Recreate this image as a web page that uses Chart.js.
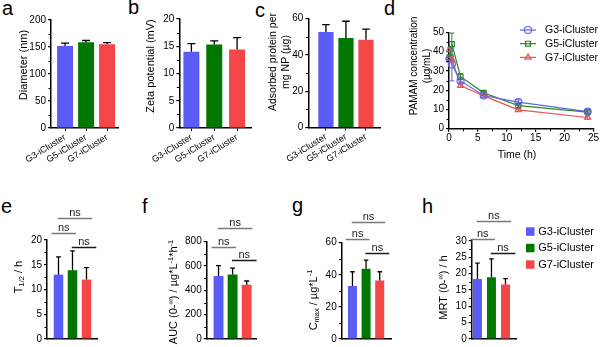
<!DOCTYPE html>
<html>
<head>
<meta charset="utf-8">
<script src="https://cdn.jsdelivr.net/npm/chart.js@4.4.1/dist/chart.umd.min.js"></script>
<style>
  body { margin: 0; background: #fff; width: 600px; height: 347px; position: relative; overflow: hidden; font-family: 'Liberation Sans', Arial, sans-serif; }
  canvas { position: absolute; }
  .tag { position: absolute; font-size: 20px; line-height: 20px; color: #000; }
</style>
</head>
<body>
<div class="tag" style="left:2px;top:-2px">a</div>
<div class="tag" style="left:128px;top:-3px">b</div>
<div class="tag" style="left:255px;top:0px">c</div>
<div class="tag" style="left:384px;top:-2px">d</div>
<div class="tag" style="left:1px;top:196px">e</div>
<div class="tag" style="left:142px;top:196px">f</div>
<div class="tag" style="left:292px;top:195px">g</div>
<div class="tag" style="left:422px;top:196px">h</div>

<canvas id="ca" width="130" height="175" style="left:0;top:0"></canvas>
<canvas id="cb" width="130" height="175" style="left:130px;top:0"></canvas>
<canvas id="cc" width="130" height="175" style="left:260px;top:0"></canvas>
<canvas id="cd" width="205" height="175" style="left:395px;top:0"></canvas>
<canvas id="ce" width="140" height="177" style="left:0;top:170px"></canvas>
<canvas id="cf" width="150" height="177" style="left:140px;top:170px"></canvas>
<canvas id="cg" width="130" height="177" style="left:290px;top:170px"></canvas>
<canvas id="ch" width="180" height="177" style="left:420px;top:170px"></canvas>

<script>
// ---- data ----
const groups = ['G3-iCluster', 'G5-iCluster', 'G7-iCluster'];

const diameter = [152, 159, 155];
const diameterSD = [5, 3, 3];
const zeta = [14.0, 15.3, 14.4];
const zetaSD = [1.5, 0.7, 2.2];
const protein = [52.6, 49.4, 48.4];
const proteinSD = [4.1, 9.2, 5.9];

const timeH = [0.083, 0.5, 2, 6, 12, 24];
const pamamG3 = [36, 33.3, 24.8, 17.2, 13.8, 8.9];
const pamamG3SD = [1, 8.5, 1, 0.8, 1.2, 0.8];
const pamamG5 = [37, 43.9, 27, 18.6, 12, 8.6];
const pamamG5SD = [1, 5.7, 1.5, 0.8, 1, 0.6];
const pamamG7 = [41, 36, 22.4, 17, 9.8, 5.8];
const pamamG7SD = [1, 1.5, 1, 0.8, 0.8, 0.8];

const t12 = [13, 13.9, 12];
const t12SD = [3.6, 3.9, 2.4];
const auc = [519, 530, 446];
const aucSD = [84, 53, 31];
const cmax = [33, 43.8, 36.5];
const cmaxSD = [8.9, 5.4, 5.4];
const mrt = [18.4, 18.9, 16.7];
const mrtSD = [4.8, 5.6, 1.8];

// pairwise comparisons: all "ns"
const nsPairs = [[0, 2], [0, 1], [1, 2]];
const nsText = ['ns', 'ns', 'ns'];
// bracket heights in each panel's data units (top, middle, lower)
const t12Brackets = [24.5, 21.4, 18.6];
const aucBrackets = [913, 756, 650];
const cmaxBrackets = [73, 62, 53.5];
const mrtBrackets = [36, 30.5, 26.4];

// ---- styles ----
const FONT = "'Liberation Sans', Arial, sans-serif";
Chart.defaults.font.family = FONT;
Chart.defaults.color = '#000';
const barColors = ['#5b5bf6', '#007800', '#f44646'];
const lineColors = ['#6464e0', '#2b8a2b', '#e25555'];
const markers = ['circle', 'rect', 'triangle'];

// rich text: segments {t, sub, sup}
function drawRich(ctx, segs, x, y, size, rot) {
  if (typeof segs === 'string') segs = [{t: segs}];
  ctx.save();
  ctx.translate(x, y);
  ctx.rotate(rot || 0);
  let w = 0;
  const parts = segs.map(sg => {
    const sz = (sg.sub || sg.sup) ? size * 0.68 : size;
    ctx.font = sz + 'px ' + FONT;
    const pw = ctx.measureText(sg.t).width;
    w += pw;
    return {sg, sz, pw};
  });
  let cx = -w / 2;
  ctx.textBaseline = 'alphabetic';
  ctx.fillStyle = '#000';
  parts.forEach(p => {
    ctx.font = p.sz + 'px ' + FONT;
    let dy = size * 0.36;
    if (p.sg.sub) dy += size * 0.22;
    if (p.sg.sup) dy -= size * 0.38;
    ctx.fillText(p.sg.t, cx, dy);
    cx += p.pw;
  });
  ctx.restore();
}

const texts = {
  id: 'texts',
  afterDraw(chart, args, opts) {
    (opts.items || []).forEach(it => drawRich(chart.ctx, it.segs, it.x, it.y, it.size, it.rot));
  }
};

const minorTicks = {
  id: 'minorTicks',
  afterDraw(chart, args, opts) {
    if (!opts.axes) return;
    const {ctx, chartArea} = chart;
    ctx.save();
    ctx.strokeStyle = '#000';
    ctx.lineWidth = 1;
    opts.axes.forEach(id => {
      const s = chart.scales[id];
      const t = s.ticks.map(k => k.value);
      for (let i = 0; i < t.length - 1; i++) {
        const p = Math.round(s.getPixelForValue((t[i] + t[i + 1]) / 2)) + 0.5;
        ctx.beginPath();
        if (s.isHorizontal()) { ctx.moveTo(p, chartArea.bottom); ctx.lineTo(p, chartArea.bottom + 2.5); }
        else { ctx.moveTo(chartArea.left, p); ctx.lineTo(chartArea.left - 2.5, p); }
        ctx.stroke();
      }
    });
    ctx.restore();
  }
};

const errorBars = {
  id: 'errorBars',
  afterDatasetsDraw(chart, args, opts) {
    const {ctx} = chart;
    const ys = chart.scales.y;
    chart.data.datasets.forEach((ds, di) => {
      if (!ds.errors) return;
      const meta = chart.getDatasetMeta(di);
      ctx.save();
      ctx.strokeStyle = opts.color || ds.borderColor;
      ctx.lineWidth = opts.width || 1.2;
      meta.data.forEach((el, i) => {
        const v = ds.data[i].y, e = ds.errors[i];
        const yTop = ys.getPixelForValue(v + e);
        const yBot = opts.both ? ys.getPixelForValue(v - e) : el.y;
        const cap = opts.cap || el.width * 0.5;
        ctx.beginPath();
        ctx.moveTo(el.x, yBot); ctx.lineTo(el.x, yTop);
        ctx.moveTo(el.x - cap / 2, yTop); ctx.lineTo(el.x + cap / 2, yTop);
        if (opts.both) { ctx.moveTo(el.x - cap / 2, yBot); ctx.lineTo(el.x + cap / 2, yBot); }
        ctx.stroke();
      });
      ctx.restore();
    });
  }
};

const sigBrackets = {
  id: 'sigBrackets',
  afterDraw(chart, args, opts) {
    if (!opts.levels) return;
    const {ctx} = chart;
    const xs = chart.scales.x, ys = chart.scales.y;
    nsPairs.forEach((pr, k) => {
      const y = Math.round(ys.getPixelForValue(opts.levels[k])) + 0.5;
      const x1 = xs.getPixelForValue(pr[0] + opts.span[k][0]);
      const x2 = xs.getPixelForValue(pr[1] + opts.span[k][1]);
      ctx.save();
      ctx.strokeStyle = opts.colors[k];
      ctx.lineWidth = 1.5;
      ctx.beginPath(); ctx.moveTo(x1, y); ctx.lineTo(x2, y); ctx.stroke();
      ctx.fillStyle = '#222';
      ctx.font = '11px ' + FONT;
      ctx.textAlign = 'center';
      ctx.textBaseline = 'alphabetic';
      ctx.fillText(nsText[k], (x1 + x2) / 2, y - 3);
      ctx.restore();
    });
  }
};

const miniLegend = {
  id: 'miniLegend',
  afterDraw(chart, args, opts) {
    if (!opts.kind) return;
    const {ctx} = chart;
    groups.forEach((g, i) => {
      const y = opts.y + i * opts.gap;
      ctx.save();
      if (opts.kind === 'line') {
        ctx.strokeStyle = lineColors[i];
        ctx.fillStyle = 'rgba(0,0,0,0)';
        ctx.lineWidth = 1.2;
        ctx.beginPath(); ctx.moveTo(opts.x, y); ctx.lineTo(opts.x + 16, y); ctx.stroke();
        Chart.helpers.drawPoint(ctx, {pointStyle: markers[i], radius: 3.5, rotation: 0, borderWidth: 1.2}, opts.x + 8, y);
      } else {
        ctx.fillStyle = barColors[i];
        ctx.fillRect(opts.x, y - 4, 8.5, 8.5);
      }
      ctx.fillStyle = '#000';
      ctx.font = opts.size + 'px ' + FONT;
      ctx.textBaseline = 'middle';
      ctx.fillText(g, opts.textX, y + 0.5);
      ctx.restore();
    });
  }
};

Chart.register(texts, minorTicks, errorBars, sigBrackets, miniLegend);

function yAxis(max, step, width) {
  return {
    min: 0, max: max,
    ticks: {stepSize: step, font: {size: 10}, padding: 2, color: '#000'},
    grid: {drawOnChartArea: false, tickLength: 3, color: '#000', lineWidth: 1.2},
    border: {color: '#000', width: 1.5},
    afterFit: s => { s.width = width; }
  };
}

function barChart(id, p) {
  return new Chart(document.getElementById(id), {
    type: 'bar',
    data: {
      datasets: [{
        data: p.values.map((v, i) => ({x: i, y: v})),
        errors: p.sd,
        backgroundColor: barColors,
        borderWidth: 0,
        barPercentage: p.barPct,
        categoryPercentage: 1
      }]
    },
    options: {
      responsive: false,
      animation: false,
      layout: {padding: p.pad},
      plugins: {
        legend: {display: false},
        tooltip: {enabled: false},
        errorBars: {color: '#000', width: 1.3},
        minorTicks: {axes: ['y']},
        texts: {items: p.titles},
        sigBrackets: p.brackets ? {
          levels: p.brackets,
          span: [[-0.05, 0.4], [-0.5, 0.25], [-0.05, 0.7]],
          colors: ['#7a7a7a', '#7a7a7a', '#1a1a1a']
        } : {},
        miniLegend: p.legend || {}
      },
      scales: {
        x: {
          type: 'linear', min: p.xmin, max: p.xmax, offset: false,
          afterBuildTicks: s => { s.ticks = groups.map((g, i) => ({value: i})); },
          ticks: {
            display: !!p.labels, autoSkip: false, minRotation: 32, maxRotation: 32,
            font: {size: 9}, padding: 1, color: '#000',
            callback: v => groups[v]
          },
          grid: {display: !!p.labels, offset: false, drawOnChartArea: false, tickLength: 3, color: '#000'},
          border: {color: '#000', width: 1.5},
          afterFit: s => { s.height = p.xh; }
        },
        y: yAxis(p.ymax, p.ystep, p.yw)
      }
    }
  });
}

const ROT = -Math.PI / 2;

barChart('ca', {
  values: diameter, sd: diameterSD, barPct: 0.76, labels: true,
  xmin: -0.67, xmax: 2.52, ymax: 200, ystep: 50,
  pad: {left: 0, top: 20, right: 12, bottom: 0}, yw: 51, xh: 47,
  titles: [{segs: 'Diameter (nm)', x: 23, y: 65, size: 11, rot: ROT}]
});
barChart('cb', {
  values: zeta, sd: zetaSD, barPct: 0.7, labels: true,
  xmin: -0.53, xmax: 2.64, ymax: 20, ystep: 5,
  pad: {left: 0, top: 19, right: 8.3, bottom: 0}, yw: 49.3, xh: 47,
  titles: [{segs: 'Zeta potential (mV)', x: 20, y: 66, size: 11, rot: ROT}]
});
barChart('cc', {
  values: protein, sd: proteinSD, barPct: 0.76, labels: true,
  xmin: -0.88, xmax: 2.7, ymax: 60, ystep: 20,
  pad: {left: 0, top: 18.7, right: 10, bottom: 0}, yw: 48.3, xh: 47.5,
  titles: [
    {segs: 'Adsorbed protein per', x: 12, y: 62, size: 10.5, rot: ROT},
    {segs: 'mg NP (µg)', x: 25, y: 62, size: 10.5, rot: ROT}
  ]
});

new Chart(document.getElementById('cd'), {
  type: 'line',
  data: {
    datasets: [pamamG3, pamamG5, pamamG7].map((vals, i) => ({
      label: groups[i],
      data: timeH.map((t, k) => ({x: t, y: vals[k]})),
      errors: [pamamG3SD, pamamG5SD, pamamG7SD][i],
      borderColor: lineColors[i],
      backgroundColor: 'rgba(0,0,0,0)',
      pointBackgroundColor: 'rgba(0,0,0,0)',
      pointStyle: markers[i],
      pointRadius: 3.5,
      pointBorderWidth: 1.2,
      borderWidth: 1.2,
      tension: 0
    }))
  },
  options: {
    responsive: false,
    animation: false,
    clip: false,
    layout: {padding: {left: 0, top: 32.3, right: 6, bottom: 0}},
    plugins: {
      legend: {display: false},
      tooltip: {enabled: false},
      errorBars: {both: true, cap: 5, width: 1},
      minorTicks: {axes: ['x', 'y']},
      texts: {items: [
        {segs: 'PAMAM concentration', x: 18, y: 66, size: 10, rot: ROT},
        {segs: '(µg/mL)', x: 31.5, y: 66, size: 10, rot: ROT},
        {segs: 'Time (h)', x: 122, y: 154, size: 10.5, rot: 0}
      ]},
      miniLegend: {kind: 'line', x: 125, y: 30, gap: 13.7, textX: 150, size: 10.5}
    },
    scales: {
      x: {
        type: 'linear', min: 0, max: 25,
        ticks: {stepSize: 5, font: {size: 10}, padding: 1, color: '#000', maxRotation: 0},
        grid: {drawOnChartArea: false, tickLength: 3, color: '#000', lineWidth: 1.2},
        border: {color: '#000', width: 1.5},
        afterFit: s => { s.height = 46.3; }
      },
      y: yAxis(50, 10, 54)
    }
  }
});

barChart('ce', {
  values: t12, sd: t12SD, barPct: 0.68, labels: false,
  xmin: -0.82, xmax: 2.75, ymax: 20, ystep: 5,
  pad: {left: 0, top: 70, right: 43, bottom: 0}, yw: 47, xh: 4.3,
  brackets: t12Brackets,
  titles: [{segs: [{t: 'T'}, {t: '1/2', sub: true}, {t: ' / h'}], x: 18, y: 107, size: 11, rot: ROT}]
});
barChart('cf', {
  values: auc, sd: aucSD, barPct: 0.7, labels: false,
  xmin: -0.84, xmax: 2.71, ymax: 800, ystep: 200,
  pad: {left: 0, top: 71.7, right: 33.3, bottom: 0}, yw: 66.7, xh: 3.7,
  brackets: aucBrackets,
  titles: [{segs: [{t: 'AUC (0-'}, {t: '∞', sup: true}, {t: ') / µg*L'}, {t: '-1', sup: true}, {t: '*h'}, {t: '-1', sup: true}],
            x: 33, y: 122, size: 11, rot: ROT}]
});
barChart('cg', {
  values: cmax, sd: cmaxSD, barPct: 0.66, labels: false,
  xmin: -0.79, xmax: 2.88, ymax: 60, ystep: 20,
  pad: {left: 0, top: 72.7, right: 28.3, bottom: 0}, yw: 51.7, xh: 3,
  brackets: cmaxBrackets,
  titles: [{segs: [{t: 'C'}, {t: 'max', sub: true}, {t: ' / µg*L'}, {t: '-1', sup: true}], x: 22.7, y: 130, size: 11, rot: ROT}]
});
barChart('ch', {
  values: mrt, sd: mrtSD, barPct: 0.64, labels: false,
  xmin: -0.41, xmax: 2.8, ymax: 30, ystep: 5,
  pad: {left: 0, top: 71, right: 83.3, bottom: 0}, yw: 51.7, xh: 3,
  brackets: mrtBrackets,
  legend: {kind: 'box', x: 106, y: 61.3, gap: 16.5, textX: 118.3, size: 11},
  titles: [{segs: [{t: 'MRT (0-'}, {t: '∞', sup: true}, {t: ') / h'}], x: 23.3, y: 117.5, size: 11, rot: ROT}]
});
</script>
</body>
</html>
